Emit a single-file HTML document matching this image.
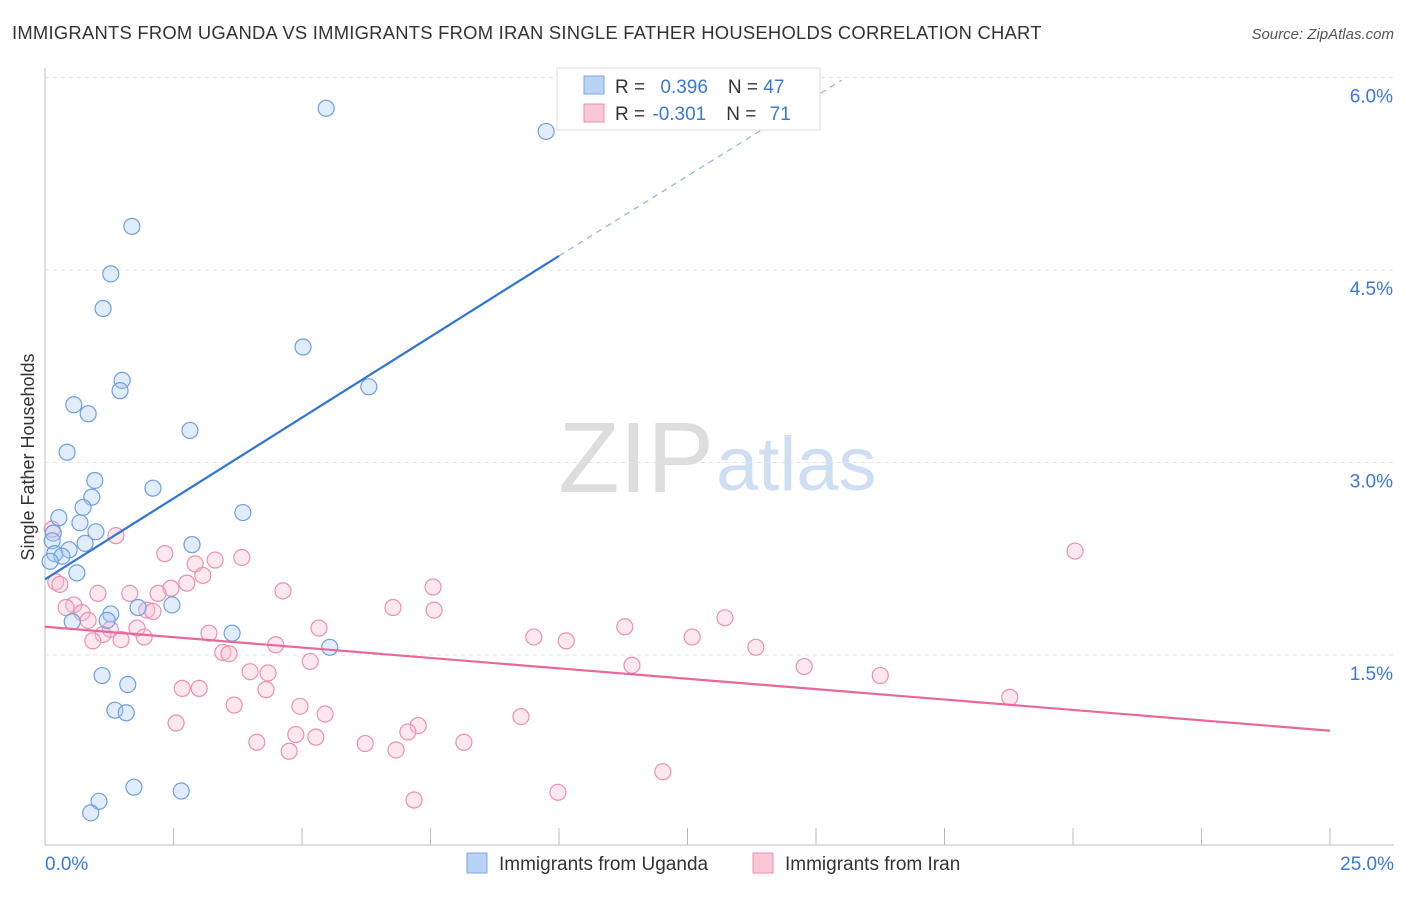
<!DOCTYPE html>
<html><head><meta charset="utf-8"><style>
body{margin:0;background:#fff;font-family:"Liberation Sans",sans-serif;}
svg text{font-family:"Liberation Sans",sans-serif;}
</style></head><body>
<svg id="c" width="1406" height="892">
<text x="12" y="39" font-size="18.4" letter-spacing="0.25" fill="#333">IMMIGRANTS FROM UGANDA VS IMMIGRANTS FROM IRAN SINGLE FATHER HOUSEHOLDS CORRELATION CHART</text>
<text x="1394" y="39" font-size="15" fill="#555" font-style="italic" text-anchor="end">Source: ZipAtlas.com</text>
<text x="714" y="492" font-size="100" fill="#ddd" text-anchor="end" font-family="Liberation Serif">ZIP</text>
<text x="716" y="490" font-size="76" fill="#cfdff3">atlas</text>
<text transform="translate(34,457) rotate(-90)" font-size="18" fill="#333" text-anchor="middle">Single Father Households</text>
<g id="grid"></g><g id="pts"></g><g id="lines"></g>
<g>
<rect x="557" y="68" width="263" height="62" fill="#fff" stroke="#ddd"/>
<rect x="584" y="76" width="20" height="18" fill="#b9d3f5" stroke="#7aa7e6"/>
<rect x="584" y="104" width="20" height="18" fill="#f9c7d6" stroke="#ec90ae"/>
<text x="615" y="93" font-size="19" fill="#333">R = <tspan fill="#3b78d8" dx="10">0.396</tspan><tspan dx="20" fill="#333">N = </tspan><tspan fill="#3b78d8">47</tspan></text>
<text x="615" y="120" font-size="19" fill="#333">R = <tspan fill="#3b78d8" dx="2">-0.301</tspan><tspan dx="20" fill="#333">N = </tspan><tspan fill="#3b78d8" dx="8">71</tspan></text>
</g>
<g>
<rect x="467" y="853" width="20" height="20" fill="#b9d3f5" stroke="#7aa7e6"/>
<text x="499" y="870" font-size="19" fill="#333">Immigrants from Uganda</text>
<rect x="753" y="853" width="20" height="20" fill="#f9c7d6" stroke="#ec90ae"/>
<text x="785" y="870" font-size="19" fill="#333">Immigrants from Iran</text>
</g>
</svg>
<script>
const xTicks=[0,2.5,5,7.5,10,12.5,15,17.5,20,22.5,25];
const yTicks=[1.5,3.0,4.5,6.0];
const ugX=[5.47,9.75,1.69,1.28,1.13,5.02,1.50,1.46,6.30,0.56,0.84,2.82,0.43,0.97,2.10,0.91,0.74,3.85,0.27,0.68,0.99,0.16,0.78,2.86,0.14,0.19,0.47,0.33,0.10,0.62,1.81,2.47,1.28,1.21,0.53,3.64,5.54,1.11,1.61,1.36,1.58,1.73,2.65,1.05,0.89];
const ugY=[5.76,5.58,4.84,4.47,4.20,3.90,3.64,3.56,3.59,3.45,3.38,3.25,3.08,2.86,2.80,2.73,2.65,2.61,2.57,2.53,2.46,2.45,2.37,2.36,2.39,2.29,2.32,2.27,2.23,2.14,1.87,1.89,1.82,1.77,1.76,1.67,1.56,1.34,1.27,1.07,1.05,0.47,0.44,0.36,0.27];
const irX=[20.04,1.38,0.14,2.33,3.83,3.31,2.92,3.07,7.55,0.21,0.29,2.76,2.45,4.63,1.65,2.20,1.03,0.56,0.41,6.77,7.57,1.98,2.10,0.72,0.84,13.23,11.28,5.33,1.27,1.79,3.19,1.13,9.51,12.59,1.93,1.48,10.14,0.93,4.49,13.83,3.46,3.58,5.16,11.42,14.77,3.99,4.34,16.25,2.67,3.00,4.30,18.77,3.68,4.96,5.45,9.26,2.55,7.26,7.06,4.88,5.27,4.12,6.23,8.15,4.75,6.83,12.02,9.98,7.18];
const irY=[2.31,2.43,2.48,2.29,2.26,2.24,2.21,2.12,2.03,2.07,2.05,2.06,2.02,2.00,1.98,1.98,1.98,1.89,1.87,1.87,1.85,1.85,1.84,1.83,1.77,1.79,1.72,1.71,1.70,1.71,1.67,1.66,1.64,1.64,1.64,1.62,1.61,1.61,1.58,1.56,1.52,1.51,1.45,1.42,1.41,1.37,1.36,1.34,1.24,1.24,1.23,1.17,1.11,1.10,1.04,1.02,0.97,0.95,0.90,0.88,0.86,0.82,0.81,0.82,0.75,0.76,0.59,0.43,0.37];
const ugLine=[0,2.09,10.0,4.61];
const ugDash=[10.0,4.61,15.5,5.98];
const irLine=[0,1.72,25,0.91];
const NS='http://www.w3.org/2000/svg';
const X=v=>45+v*51.4, Y=v=>847.5-v*128.33;
function mk(tag,p,attrs){const e=document.createElementNS(NS,tag);for(const k in attrs)e.setAttribute(k,attrs[k]);p.appendChild(e);return e;}
const g=document.getElementById('grid'),pts=document.getElementById('pts'),ln=document.getElementById('lines');
mk('line',g,{x1:45,y1:68,x2:45,y2:845,stroke:'#bbb'});
mk('line',g,{x1:45,y1:845,x2:1394,y2:845,stroke:'#bbb'});
yTicks.forEach(t=>{const l=mk('line',g,{x1:45,x2:1394,y1:Y(t),y2:Y(t),stroke:'#e2e2e2','stroke-dasharray':'4,4'});


const tx=mk('text',g,{x:1393,y:Y(t)+25,'font-size':19,fill:'#3b78d8','text-anchor':'end'});tx.textContent=t.toFixed(1)+'%';

});
xTicks.forEach(t=>{const l=mk('line',g,{x1:X(t),x2:X(t),y1:828,y2:845,stroke:'#bbb'});

});
[[0,'start'],[25,'end']].forEach(([t,a])=>{const tx=mk('text',g,{x:t?1394:45,y:870,'font-size':19,fill:'#3b78d8','text-anchor':a});tx.textContent=t.toFixed(1)+'%';

});
irX.forEach((v,i)=>{const c=mk('circle',pts,{cx:X(v),cy:Y(irY[i]),r:8,fill:'rgba(249,190,210,0.35)',stroke:'#ec90ae','stroke-width':1.2});

});
ugX.forEach((v,i)=>{const c=mk('circle',pts,{cx:X(v),cy:Y(ugY[i]),r:8,fill:'rgba(170,200,245,0.35)',stroke:'#6d9fe3','stroke-width':1.2});

});
const a=mk('line',ln,{x1:X(ugLine[0]),y1:Y(ugLine[1]),x2:X(ugLine[2]),y2:Y(ugLine[3]),stroke:'#2f74d6','stroke-width':2.2});


const b=mk('line',ln,{x1:X(ugDash[0]),y1:Y(ugDash[1]),x2:X(ugDash[2]),y2:Y(ugDash[3]),stroke:'#8fb3e8','stroke-width':1.2,'stroke-dasharray':'6,5'});


const c2=mk('line',ln,{x1:X(irLine[0]),y1:Y(irLine[1]),x2:X(irLine[2]),y2:Y(irLine[3]),stroke:'#e8689a','stroke-width':2.2});


</script>
</body></html>
